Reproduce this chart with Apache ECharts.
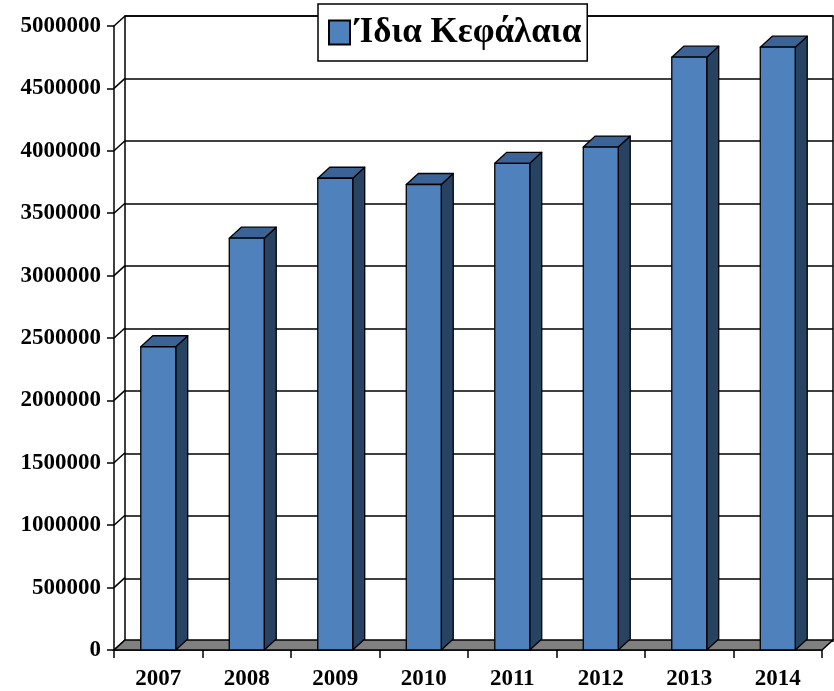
<!DOCTYPE html>
<html>
<head>
<meta charset="utf-8">
<script src="https://cdn.jsdelivr.net/npm/echarts@6/dist/echarts.min.js"></script>
<style>
html,body{margin:0;padding:0;background:#fff;}
#chart{width:834px;height:691px;}
</style>
</head>
<body>
<div id="chart"></div>
<script>
var categories = ['2007', '2008', '2009', '2010', '2011', '2012', '2013', '2014'];
var values = [2430000, 3300000, 3780000, 3730000, 3900000, 4030000, 4750000, 4830000];
var yTicks = [0, 500000, 1000000, 1500000, 2000000, 2500000, 3000000, 3500000, 4000000, 4500000, 5000000];
var seriesName = 'Ίδια Κεφάλαια';

var DX = 11, DY = -10;       // wall depth
var BDX = 12, BDY = -11;     // bar depth
var FONT = '"Liberation Serif", "DejaVu Serif", serif';

var chart = echarts.init(document.getElementById('chart'), null, {renderer: 'canvas'});

function renderBar(params, api) {
  var idx = api.value(0);
  var top = api.coord([idx, api.value(1)]);
  var base = api.coord([idx, 0]);
  var band = api.size([1, 0])[0];
  var w = band * 0.395;
  var x0 = top[0] - w / 2, x1 = top[0] + w / 2;
  var yt = top[1], yb = base[1];
  var stroke = {stroke: '#000', lineWidth: 1.3, lineJoin: 'round'};
  return {
    type: 'group',
    children: [
      {type: 'polygon', shape: {points: [[x1, yb], [x1 + BDX, yb + BDY], [x1 + BDX, yt + BDY], [x1, yt]]},
        style: Object.assign({fill: '#284262'}, stroke)},
      {type: 'polygon', shape: {points: [[x0, yt], [x1, yt], [x1 + BDX, yt + BDY], [x0 + BDX, yt + BDY]]},
        style: Object.assign({fill: '#3C6395'}, stroke)},
      {type: 'rect', shape: {x: x0, y: yt, width: w, height: yb - yt},
        style: Object.assign({fill: '#4F81BD'}, stroke)}
    ]
  };
}

function renderFloor(params, api) {
  var cs = params.coordSys;
  var yb = cs.y + cs.height;
  return {
    type: 'polygon',
    shape: {points: [[cs.x, yb], [cs.x + cs.width, yb], [cs.x + cs.width + DX, yb + DY], [cs.x + DX, yb + DY]]},
    style: {fill: '#808080', stroke: '#000', lineWidth: 1.5}
  };
}

function renderWallLine(params, api) {
  var cs = params.coordSys;
  var p = api.coord([0, api.value(0)]);
  return {
    type: 'line',
    shape: {x1: cs.x, y1: p[1], x2: cs.x + DX, y2: p[1] + DY},
    style: {stroke: '#000', lineWidth: 1.5}
  };
}

var option = {
  backgroundColor: '#fff',
  animation: false,
  legend: {
    data: [{name: seriesName, icon: 'rect'}],
    left: 318,
    top: 4,
    padding: [11, 6, 11, 10],
    itemWidth: 21,
    itemHeight: 24,
    backgroundColor: '#fff',
    borderColor: '#000',
    borderWidth: 1.5,
    textStyle: {fontFamily: FONT, fontWeight: 'bold', fontSize: 35, color: '#000'},
    z: 10
  },
  grid: [
    {left: 114, top: 26, right: 12, bottom: 40, show: false},
    {left: 125, top: 16, right: 1, bottom: 50, show: true, borderColor: '#000', borderWidth: 1.5, backgroundColor: '#fff', z: 0}
  ],
  xAxis: [
    {
      type: 'category', gridIndex: 0, data: categories,
      axisLine: {show: true, lineStyle: {color: '#000', width: 1.5}},
      axisTick: {show: true, length: 8, alignWithLabel: false, lineStyle: {color: '#000', width: 1.5}},
      axisLabel: {color: '#000', fontFamily: FONT, fontWeight: 'bold', fontSize: 23, margin: 18},
      splitLine: {show: false}
    },
    {
      type: 'category', gridIndex: 1, data: categories,
      axisLine: {show: false}, axisTick: {show: false}, axisLabel: {show: false}, splitLine: {show: false}
    }
  ],
  yAxis: [
    {
      type: 'value', gridIndex: 0, min: 0, max: 5000000, interval: 500000,
      axisLine: {show: true, lineStyle: {color: '#000', width: 1.5}},
      axisTick: {show: true, length: 7, lineStyle: {color: '#000', width: 1.5}},
      axisLabel: {color: '#000', fontFamily: FONT, fontWeight: 'bold', fontSize: 23, margin: 13,
        formatter: function (v) { return String(v); }},
      splitLine: {show: false}
    },
    {
      type: 'value', gridIndex: 1, min: 0, max: 5000000, interval: 500000,
      axisLine: {show: false}, axisTick: {show: false}, axisLabel: {show: false},
      splitLine: {show: true, lineStyle: {color: '#000', width: 1.5}}
    }
  ],
  series: [
    {
      type: 'custom', name: 'wall', xAxisIndex: 0, yAxisIndex: 0,
      data: yTicks.map(function (v) { return [v]; }),
      encode: {y: 0},
      renderItem: renderWallLine, silent: true, z: 1
    },
    {
      type: 'custom', name: 'floor', xAxisIndex: 0, yAxisIndex: 0,
      data: [[0, 0]],
      renderItem: renderFloor, silent: true, z: 2
    },
    {
      type: 'custom', name: seriesName, xAxisIndex: 0, yAxisIndex: 0,
      data: categories.map(function (c, i) { return [i, values[i]]; }),
      encode: {x: 0, y: 1},
      itemStyle: {color: '#4F81BD', borderColor: '#000', borderWidth: 1},
      renderItem: renderBar, z: 3
    }
  ]
};
chart.setOption(option);
</script>
</body>
</html>
